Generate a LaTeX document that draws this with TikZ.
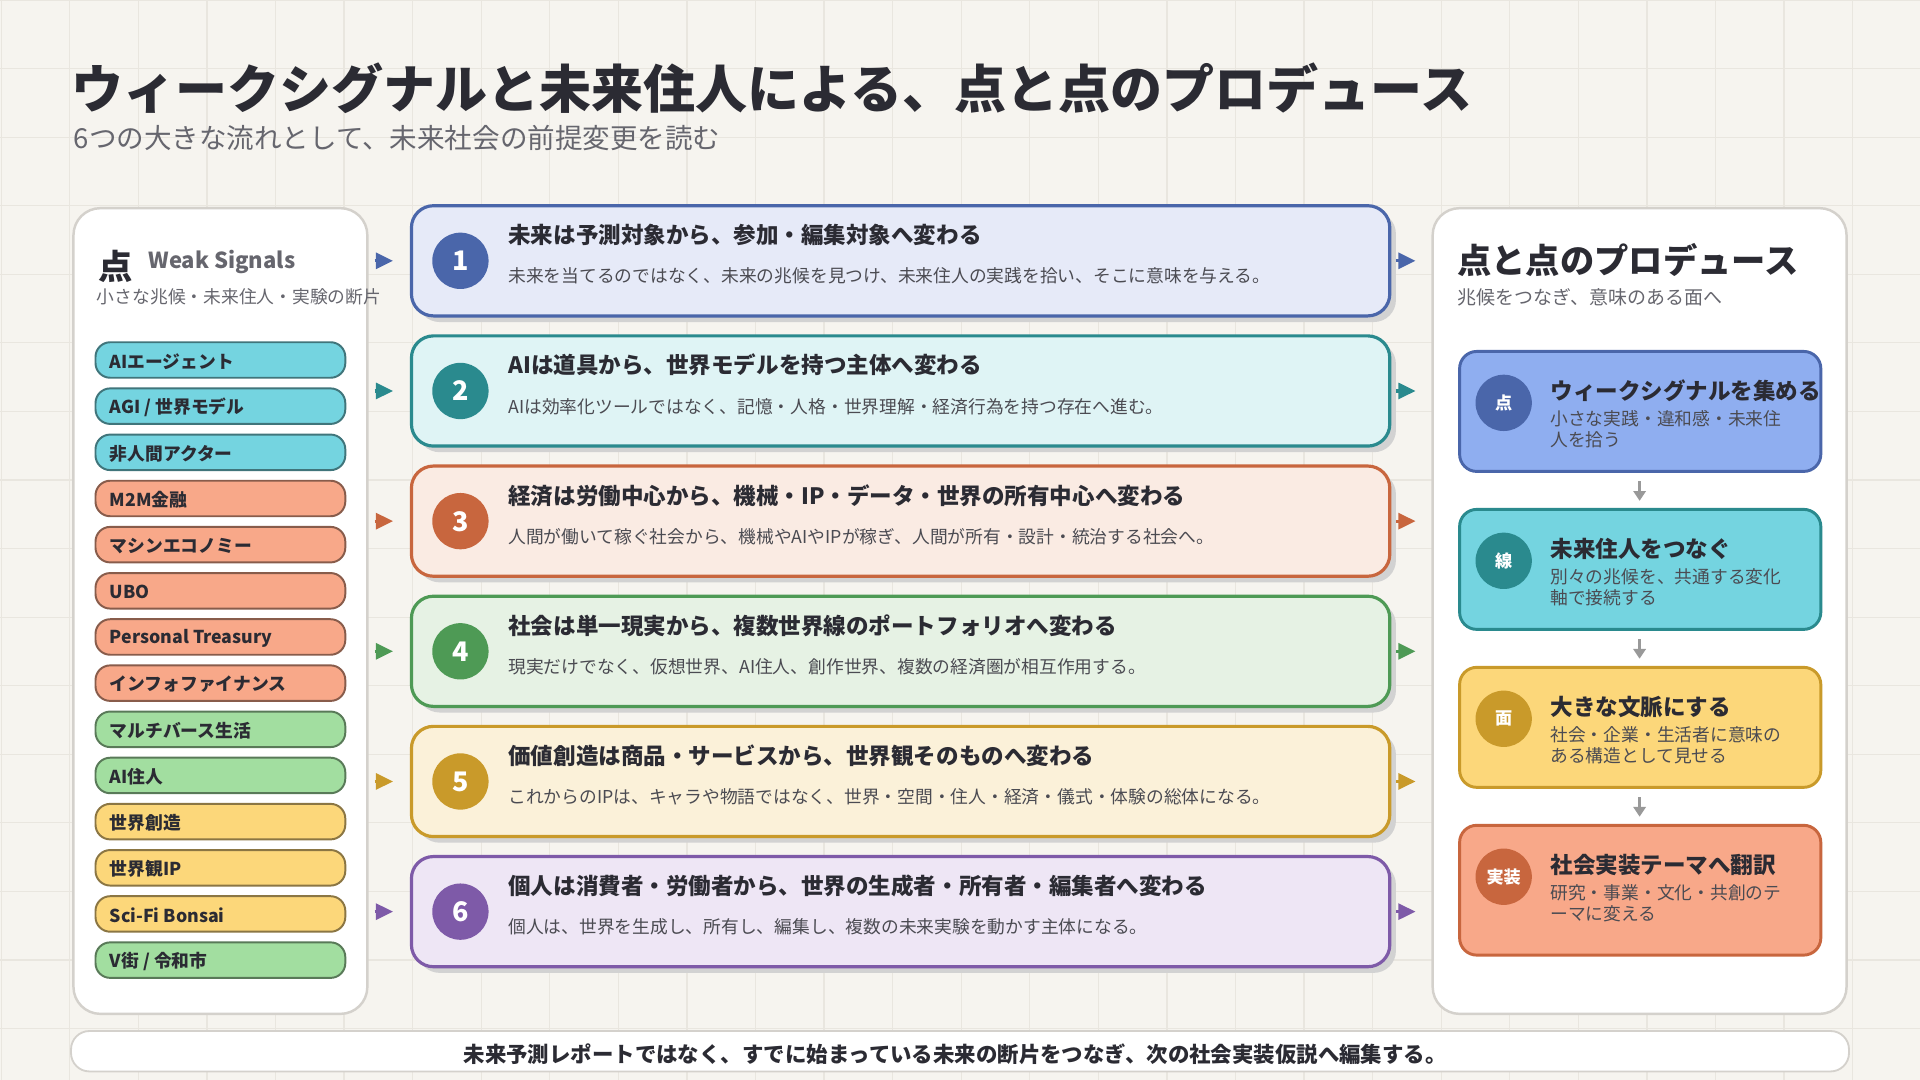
\documentclass[tikz,border=0pt]{standalone}
\usepackage{fontspec}
\setmainfont{Noto Sans CJK JP}
\usetikzlibrary{arrows.meta}
\definecolor{bg}{HTML}{F6F4EF}
\definecolor{gridc}{HTML}{E9E6DF}
\definecolor{ink}{HTML}{2B2B33}
\definecolor{gry}{HTML}{66666E}
\definecolor{bA}{HTML}{4A66AA}\definecolor{fA}{HTML}{E6EAF8}
\definecolor{bB}{HTML}{2A8A8E}\definecolor{fB}{HTML}{DFF4F5}
\definecolor{bC}{HTML}{C8663E}\definecolor{fC}{HTML}{FAEBE3}
\definecolor{bD}{HTML}{4E9A55}\definecolor{fD}{HTML}{E6F2E4}
\definecolor{bE}{HTML}{C99A2A}\definecolor{fE}{HTML}{FBF1D9}
\definecolor{bF}{HTML}{7E5AA8}\definecolor{fF}{HTML}{EEE6F5}
\definecolor{pCy}{HTML}{74D4E0}\definecolor{pOr}{HTML}{F8A889}
\definecolor{pGr}{HTML}{A2DEA0}\definecolor{pYe}{HTML}{FCD77A}
\definecolor{pBl}{HTML}{8FAEF0}
\begin{document}
\begin{tikzpicture}[x=1pt,y=-1pt,
  panel/.style={draw=gridc!80!gray,line width=2pt,fill=white!97!bg,rounded corners=22pt},
  pill/.style={draw=#1!55!black,fill=#1,line width=1.6pt,rounded corners=12pt,minimum width=204pt,minimum height=29pt,anchor=center,inner sep=0pt},
  pilltxt/.style={font=\fontsize{14.5}{14.5}\selectfont\bfseries,text=ink,anchor=west},
  card/.style={draw=#1,line width=2.6pt,rounded corners=18pt},
  num/.style={circle,fill=#1,minimum size=46pt,inner sep=0pt,text=white,font=\fontsize{22}{22}\selectfont\bfseries},
  ctitle/.style={font=\fontsize{18.4}{18}\selectfont\bfseries,text=ink,anchor=base west},
  cdesc/.style={font=\fontsize{14.5}{14}\selectfont,text=ink!85,anchor=base west},
  mark/.style={-{Triangle[length=14pt,width=13pt]},line width=2.5pt,draw=#1},
  stitle/.style={font=\fontsize{18.4}{18}\selectfont\bfseries,text=ink,anchor=base west},
  sdesc/.style={font=\fontsize{14.5}{17}\selectfont,text=ink!85,anchor=north west,align=left},
  down/.style={-{Triangle[length=8pt,width=10pt]},line width=2pt,draw=gray!80}]
\useasboundingbox (0,0) rectangle (1568,882);
\fill[bg] (0,0) rectangle (1568,882);
\foreach \x in {1,57,...,1568} \draw[gridc,line width=1pt] (\x,0) -- (\x,882);
\foreach \y in {0,56,...,882} \draw[gridc,line width=1pt] (0,\y) -- (1568,\y);
% title
\node[anchor=base west,font=\fontsize{42.5}{42}\selectfont\bfseries,text=ink,inner sep=0pt] (title) at (58,89) {ウィークシグナルと未来住人による、点と点のプロデュース};
\node[anchor=base west,font=\fontsize{22.5}{22}\selectfont,text=gry,inner sep=0pt] (sub) at (60,121) {6つの大きな流れとして、未来社会の前提変更を読む};
% left panel
\draw[panel] (60,170) rectangle (300,828);
\node[anchor=base west,font=\fontsize{28}{28}\selectfont\bfseries,text=ink,inner sep=0pt] (ten) at (80,228) {点};
\node[anchor=base west,font=\fontsize{18}{18}\selectfont\bfseries,text=gry,inner sep=0pt] (ws) at (121,219) {Weak Signals};
\node[anchor=base west,font=\fontsize{14.5}{14.5}\selectfont,text=gry,inner sep=0pt] (wss) at (79,248) {小さな兆候・未来住人・実験の断片};
\foreach \t/\c/\i in {AIエージェント/pCy/0,{AGI / 世界モデル}/pCy/1,非人間アクター/pCy/2,M2M金融/pOr/3,マシンエコノミー/pOr/4,UBO/pOr/5,Personal Treasury/pOr/6,インフォファイナンス/pOr/7,マルチバース生活/pGr/8,AI住人/pGr/9,世界創造/pYe/10,世界観IP/pYe/11,Sci-Fi Bonsai/pYe/12,{V街 / 令和市}/pGr/13}{
  \node[pill=\c] (p\i) at (180,{294+37.7*\i}) {};
  \node[pilltxt] at ([xshift=9pt,yshift=-1pt]p\i.west) {\t};
}
% cards
\foreach \i/\b/\f/\ti/\de in {
 1/bA/fA/未来は予測対象から、参加・編集対象へ変わる/未来を当てるのではなく、未来の兆候を見つけ、未来住人の実践を拾い、そこに意味を与える。,
 2/bB/fB/AIは道具から、世界モデルを持つ主体へ変わる/AIは効率化ツールではなく、記憶・人格・世界理解・経済行為を持つ存在へ進む。,
 3/bC/fC/経済は労働中心から、機械・IP・データ・世界の所有中心へ変わる/人間が働いて稼ぐ社会から、機械やAIやIPが稼ぎ、人間が所有・設計・統治する社会へ。,
 4/bD/fD/社会は単一現実から、複数世界線のポートフォリオへ変わる/現実だけでなく、仮想世界、AI住人、創作世界、複数の経済圏が相互作用する。,
 5/bE/fE/価値創造は商品・サービスから、世界観そのものへ変わる/これからのIPは、キャラや物語ではなく、世界・空間・住人・経済・儀式・体験の総体になる。,
 6/bF/fF/個人は消費者・労働者から、世界の生成者・所有者・編集者へ変わる/個人は、世界を生成し、所有し、編集し、複数の未来実験を動かす主体になる。}{
  \pgfmathsetmacro\top{168+106.3*(\i-1)}
  \fill[gray!35,rounded corners=18pt] (341,\top+5) rectangle (1140,\top+95);
  \draw[card=\b,fill=\f] (336,\top) rectangle (1135,\top+90);
  \node[num=\b,text depth=-7pt] (n\i) at (376,\top+45) {\i};
  \node[ctitle,inner sep=0pt] (t\i) at (415,\top+31) {\ti};
  \node[cdesc,inner sep=0pt] (d\i) at (415,\top+63) {\de};
  \coordinate (la\i) at (306,\top+45); \coordinate (lb\i) at (321,\top+45);
  \coordinate (ra\i) at (1140,\top+45); \coordinate (rb\i) at (1156,\top+45);
  \draw[mark=\b] (la\i) -- (lb\i);
  \draw[mark=\b] (ra\i) -- (rb\i);
}
% right panel
\draw[panel] (1170,170) rectangle (1508,828);
\node[anchor=base west,font=\fontsize{28}{28}\selectfont\bfseries,text=ink,inner sep=0pt] (rt) at (1190,223) {点と点のプロデュース};
\node[anchor=base west,font=\fontsize{15.5}{15}\selectfont,text=gry,inner sep=0pt] (rs) at (1190,249) {兆候をつなぎ、意味のある面へ};
\foreach \i/\top/\h/\fc/\bc/\ct/\ti/\de in {
 1/287/98/pBl/bA/点/ウィークシグナルを集める/{小さな実践・違和感・未来住\\人を拾う},
 2/416/98/pCy/bB/線/未来住人をつなぐ/{別々の兆候を、共通する変化\\軸で接続する},
 3/545/98/pYe/bE/面/大きな文脈にする/{社会・企業・生活者に意味の\\ある構造として見せる},
 4/674/106/pOr/bC/実装/社会実装テーマへ翻訳/{研究・事業・文化・共創のテ\\ーマに変える}}{
  \draw[draw=\bc,fill=\fc,line width=2.4pt,rounded corners=14pt] (1192,\top) rectangle (1487,\top+\h);
  \node[circle,fill=\bc,minimum size=46pt,inner sep=0pt,text=white,font=\fontsize{14}{14}\selectfont\bfseries] (s\i) at (1228,\top+42) {\ct};
  \node[stitle,inner sep=0pt] (st\i) at (1266,\top+39) {\ti};
  \node[sdesc,inner sep=0pt] (sd\i) at (1266,\top+48) {\de};
}
\coordinate (q1) at (1339,393); \coordinate (q2) at (1339,522); \coordinate (q3) at (1339,651);
\draw[down] (q1) -- ++(0,16);
\draw[down] (q2) -- ++(0,16);
\draw[down] (q3) -- ++(0,16);
% bottom
\draw[draw=gridc!80!gray,line width=1.5pt,fill=white,rounded corners=15pt] (58,842) rectangle (1510,875);
\node[font=\fontsize{17.5}{17}\selectfont\bfseries,text=ink] (bot) at (780,861) {未来予測レポートではなく、すでに始まっている未来の断片をつなぎ、次の社会実装仮説へ編集する。};
\end{tikzpicture}
\end{document}
